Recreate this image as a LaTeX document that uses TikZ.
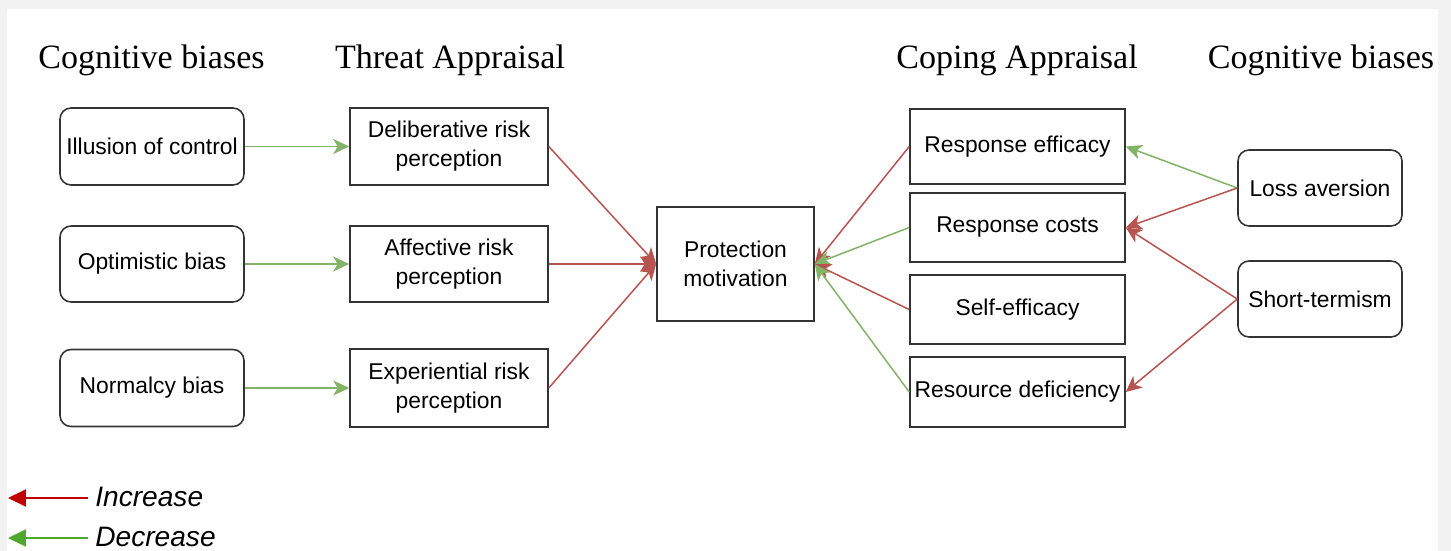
\documentclass[tikz,border=0pt]{standalone}
\usepackage{fontspec}
\setmainfont{Liberation Serif}
\setsansfont{Liberation Sans}
\usepackage{xcolor}
\usetikzlibrary{arrows.meta}

\definecolor{incr}{HTML}{B85450}
\definecolor{decr}{HTML}{82B366}
\definecolor{incrkey}{HTML}{C00000}
\definecolor{decrkey}{HTML}{4EA72E}
\definecolor{paper}{HTML}{F2F2F2}
\definecolor{boxline}{HTML}{333333}

\tikzset{
	boxtext/.style={font=\sffamily\fontsize{13}{16.5}\selectfont,align=center,inner sep=2pt},
	bias/.style={boxtext,draw=boxline,line width=0.9pt,rounded corners=0.22cm},
	appr/.style={boxtext,draw=boxline,line width=0.9pt},
	head/.style={font=\rmfamily\fontsize{19.4}{23}\selectfont,anchor=base,inner sep=0pt},
	raises/.style={incr,line width=0.85pt,-{Stealth[length=0.32cm,width=0.3cm,inset=0.09cm]}},
	lowers/.style={decr,line width=0.85pt,-{Stealth[length=0.32cm,width=0.3cm,inset=0.09cm]}},
	keytext/.style={font=\sffamily\itshape\fontsize{16}{19}\selectfont,anchor=base west,inner sep=0pt}
}

\begin{document}
\begin{tikzpicture}[x=0.02cm,y=-0.02cm]
				\useasboundingbox (0,0) rectangle (1451,551);
				\fill[paper] (0,0) rectangle (1451,551);
				\fill[white] (7,9) rectangle (1438,551);

				% column titles
				\node[head] (hbl) at (151.5,68) {Cognitive biases};
				\node[head] (hta) at (450,68) {Threat Appraisal};
				\node[head] (hca) at (1017,68) {Coping Appraisal};
				\node[head] (hbr) at (1321,68) {Cognitive biases};

				\node[bias,minimum width=3.68cm,minimum height=1.54cm] (ioc) at (152,146.5) {Illusion of control};
				\node[bias,minimum width=3.68cm,minimum height=1.52cm] (opt) at (152,264) {Optimistic bias};
				\node[bias,minimum width=3.68cm,minimum height=1.54cm] (nor) at (152,388) {Normalcy bias};

				\node[appr,minimum width=3.96cm,minimum height=1.54cm] (dlb) at (449,146.5) {Deliberative risk\\perception};
				\node[appr,minimum width=3.96cm,minimum height=1.52cm] (aff) at (449,264) {Affective risk\\perception};
				\node[appr,minimum width=3.96cm,minimum height=1.56cm] (exp) at (449,388) {Experiential risk\\perception};

				\node[appr,minimum width=3.14cm,minimum height=2.28cm] (pm) at (735.5,264) {Protection\\motivation};

				\node[appr,minimum width=4.3cm,minimum height=1.5cm] (ref) at (1017.5,146.5) {Response efficacy};
				\node[appr,minimum width=4.3cm,minimum height=1.38cm] (rco) at (1017.5,227.5) {Response costs};
				\node[appr,minimum width=4.3cm,minimum height=1.38cm] (sef) at (1017.5,309.5) {Self-efficacy};
				\node[appr,minimum width=4.3cm,minimum height=1.4cm] (rdf) at (1017.5,392) {Resource deficiency};

				\node[bias,minimum width=3.28cm,minimum height=1.52cm] (los) at (1320,188) {Loss aversion};
				\node[bias,minimum width=3.28cm,minimum height=1.52cm] (sht) at (1320,299) {Short-termism};

				\draw[lowers] (ioc.east) -- (dlb.west);
				\draw[lowers] (opt.east) -- (aff.west);
				\draw[lowers] (nor.east) -- (exp.west);

				\draw[raises] (dlb.east) -- (pm.west);
				\draw[raises] (aff.east) -- (pm.west);
				\draw[raises] (exp.east) -- (pm.west);

				\draw[raises] (ref.west) -- (pm.east);
				\draw[lowers] (rco.west) -- (pm.east);
				\draw[raises] (sef.west) -- (pm.east);
				\draw[lowers] (rdf.west) -- (pm.east);

				\draw[lowers] (los.west) -- (ref.east);
				\draw[raises] (los.west) -- (rco.east);
				\draw[raises] (sht.west) -- (rco.east);
				\draw[raises] (sht.west) -- (rdf.east);

				% key
				\node[keytext] (kinc) at (95,506) {Increase};
				\node[keytext] (kdec) at (95,546) {Decrease};
				\coordinate (kincend) at (8,498);
				\coordinate (kdecend) at (8,538);
				\draw[incrkey,line width=1.1pt,-{Triangle[length=0.36cm,width=0.34cm]}] (88,498) -- (kincend);
				\draw[decrkey,line width=1.1pt,-{Triangle[length=0.36cm,width=0.34cm]}] (88,538) -- (kdecend);
			\end{tikzpicture}
\end{document}
